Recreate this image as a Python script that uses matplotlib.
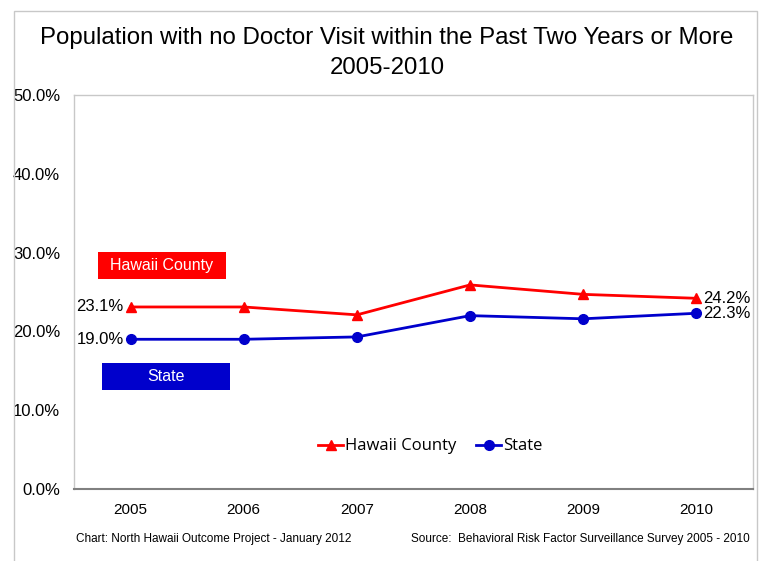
import matplotlib
matplotlib.use("Agg")
import matplotlib.pyplot as plt
from matplotlib.patches import Rectangle

years = ["2005", "2006", "2007", "2008", "2009", "2010"]
hawaii_county = [23.1, 23.1, 22.1, 25.9, 24.7, 24.2]
state = [19.0, 19.0, 19.3, 22.0, 21.6, 22.3]
y_ticks = [0, 10, 20, 30, 40, 50]

W, H = 765, 561
fig = plt.figure(figsize=(W / 100, H / 100), dpi=100)
sans = ["Liberation Sans", "DejaVu Sans"]
narrow = ["Liberation Sans Narrow", "Liberation Sans", "DejaVu Sans"]

# outer chart frame
fig.patches.append(Rectangle((14 / W, -0.05), (757 - 14) / W, 1.05 - 11 / H,
                             transform=fig.transFigure, fill=False,
                             edgecolor="#c8c8c8", linewidth=1.0))

ax = fig.add_axes([74 / W, (H - 489) / H, (753 - 74) / W, (489 - 95) / H])
x = list(range(len(years)))

red = "#ff0000"
blue = "#0000cc"
ax.plot(x, hawaii_county, color=red, marker="^", markersize=7, linewidth=2,
        label="Hawaii County", zorder=3)
ax.plot(x, state, color=blue, marker="o", markersize=7, linewidth=2,
        label="State", zorder=3)

ax.set_xlim(-0.5, len(years) - 0.5)
ax.set_ylim(0, 50)
ax.set_xticks(x)
ax.set_xticklabels(years, fontsize=11, family=sans)
ax.set_yticks(y_ticks)
ax.set_yticklabels([f"{v:.1f}%" for v in y_ticks], fontsize=12, family=sans)
ax.tick_params(axis="both", length=0)
ax.tick_params(axis="y", pad=10)
ax.tick_params(axis="x", pad=10)

for side in ["top", "right", "left"]:
    ax.spines[side].set_color("#c8c8c8")
    ax.spines[side].set_linewidth(1.0)
ax.spines["bottom"].set_color("#808080")
ax.spines["bottom"].set_linewidth(1.5)

# end-point value labels
ax.annotate(f"{hawaii_county[0]:.1f}%", (x[0], hawaii_county[0]), xytext=(-5, 0),
            textcoords="offset points", ha="right", va="center", fontsize=12, family=sans)
ax.annotate(f"{state[0]:.1f}%", (x[0], state[0]), xytext=(-5, 0),
            textcoords="offset points", ha="right", va="center", fontsize=12, family=sans)
ax.annotate(f"{hawaii_county[-1]:.1f}%", (x[-1], hawaii_county[-1]), xytext=(5, 0),
            textcoords="offset points", ha="left", va="center", fontsize=12, family=sans)
ax.annotate(f"{state[-1]:.1f}%", (x[-1], state[-1]), xytext=(5, 0),
            textcoords="offset points", ha="left", va="center", fontsize=12, family=sans)

# series name boxes (axes-fraction placement)
def name_box(x0, y0, w, h, label, color):
    ax.add_patch(Rectangle((x0, y0), w, h, transform=ax.transAxes,
                           facecolor=color, edgecolor="none", zorder=2))
    ax.text(x0 + w / 2, y0 + h / 2, label, transform=ax.transAxes, ha="center",
            va="center", color="white", fontsize=11.5, family=sans, zorder=3)

name_box(0.0353, 0.533, 0.1886, 0.0685, "Hawaii County", red)
name_box(0.0412, 0.2513, 0.1886, 0.0685, "State", blue)

ax.legend(loc="center", bbox_to_anchor=(0.525, 0.108), ncol=2, frameon=False,
          handlelength=1.5, handletextpad=0.1, columnspacing=1.2,
          prop={"family": ["Open Sans", "DejaVu Sans"], "size": 12})

fig.text(387 / W, 1 - 38 / H, "Population with no Doctor Visit within the Past Two Years or More",
         ha="center", va="center", fontsize=17.3, family=sans)
fig.text(387 / W, 1 - 68 / H, "2005-2010", ha="center", va="center", fontsize=17.3, family=sans)

fig.text(76 / W, 1 - 539 / H, "Chart: North Hawaii Outcome Project - January 2012",
         ha="left", va="center", fontsize=8.5, family=narrow)
fig.text(750 / W, 1 - 539 / H, "Source:  Behavioral Risk Factor Surveillance Survey 2005 - 2010",
         ha="right", va="center", fontsize=8.5, family=narrow)

fig.savefig("out.png", dpi=100)
